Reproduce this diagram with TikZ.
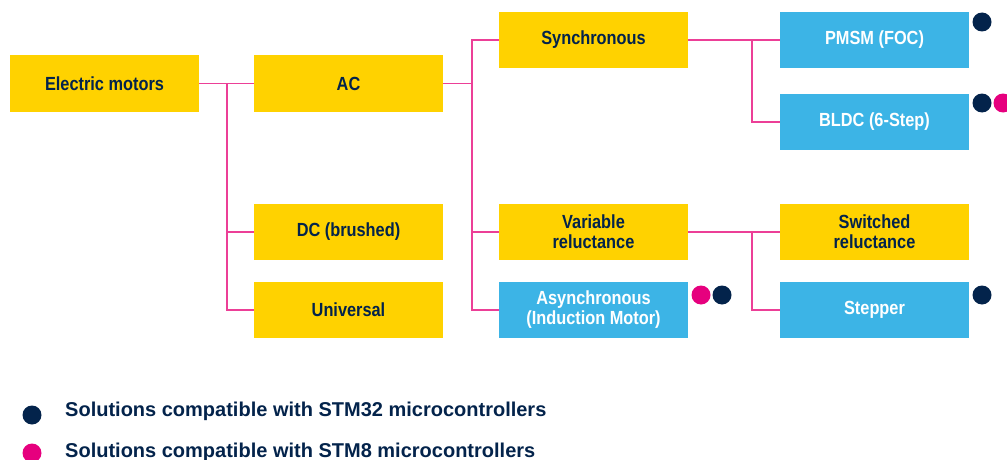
\documentclass[tikz,border=0pt]{standalone}
\usepackage{fontspec}
\setmainfont{Liberation Sans}
\newfontfamily\boxfont[FakeStretch=0.86]{Liberation Sans}
\usetikzlibrary{positioning}
\definecolor{styellow}{HTML}{FFD200}
\definecolor{stblue}{HTML}{3CB4E6}
\definecolor{stnavy}{HTML}{03234B}
\definecolor{stpink}{HTML}{E6007E}
\definecolor{linkpink}{HTML}{EC3F97}
\tikzset{
  motor/.style={rectangle, fill=styellow, minimum width=189pt, minimum height=56pt,
    inner sep=0pt, align=center, text=stnavy,
    font=\boxfont\bfseries\fontsize{19}{20}\selectfont},
  motorsol/.style={motor, fill=stblue, text=white},
  link/.style={draw=linkpink, line width=1.4pt},
  dot/.style={circle, inner sep=0pt, minimum size=19pt},
  legend/.style={anchor=base west, inner sep=0pt, text=stnavy,
    font=\bfseries\fontsize{20}{22}\selectfont}
}
\begin{document}
\begin{tikzpicture}[x=1pt, y=-1pt]
  \useasboundingbox (0,0) rectangle (1007,460);
  % motor families
  \node[motor] (em) at (104.5,83.5) {Electric motors};
  \node[motor] (ac) at (348.5,83.5) {AC};
  \node[motor] (dc) at (348.5,232) {DC (brushed)};
  \node[motor] (uni) at (348.5,310) {Universal};
  %
  \node[motor] (syn) at (593.5,40) {Synchronous};
  \node[motor] (vr) at (593.5,232) {Variable\\reluctance};
  \node[motorsol] (asy) at (593.5,310) {Asynchronous\\(Induction Motor)};
  %
  \node[motorsol] (pmsm) at (874.5,40) {PMSM (FOC)};
  \node[motorsol] (bldc) at (874.5,122) {BLDC (6-Step)};
  \node[motor] (sr) at (874.5,232) {Switched\\reluctance};
  \node[motorsol] (stp) at (874.5,310) {Stepper};
  % branch points
  \coordinate (b1) at (227,83.5);
  \coordinate (b2) at (472,83.5);
  \coordinate (b3) at (752,40);
  \coordinate (b4) at (752,232);
  % links
  \draw[link] (em.east) -- (ac.west);
  \draw[link] (b1) |- (dc.west);
  \draw[link] (b1) |- (uni.west);
  \draw[link] (ac.east) -- (b2);
  \draw[link] (b2) |- (syn.west);
  \draw[link] (b2) |- (vr.west);
  \draw[link] (b2) |- (asy.west);
  \draw[link] (syn.east) -- (pmsm.west);
  \draw[link] (b3) |- (bldc.west);
  \draw[link] (vr.east) -- (sr.west);
  \draw[link] (b4) |- (stp.west);
  % compatibility dots
  \node[dot, fill=stnavy] (pmsm32) at (982,22) {};
  \node[dot, fill=stnavy] (bldc32) at (982,103) {};
  \node[dot, fill=stpink] (bldc8) at (1003,103) {};
  \node[dot, fill=stpink] (asy8) at (701,295) {};
  \node[dot, fill=stnavy] (asy32) at (722,295) {};
  \node[dot, fill=stnavy] (stp32) at (982,295) {};
  % legend
  \node[dot, fill=stnavy] (key32) at (32,415) {};
  \node[dot, fill=stpink] (key8) at (32,453) {};
  \node[legend] (txt32) at (65,416) {Solutions compatible with STM32 microcontrollers};
  \node[legend] (txt8) at (65,457) {Solutions compatible with STM8 microcontrollers};
\end{tikzpicture}
\end{document}
